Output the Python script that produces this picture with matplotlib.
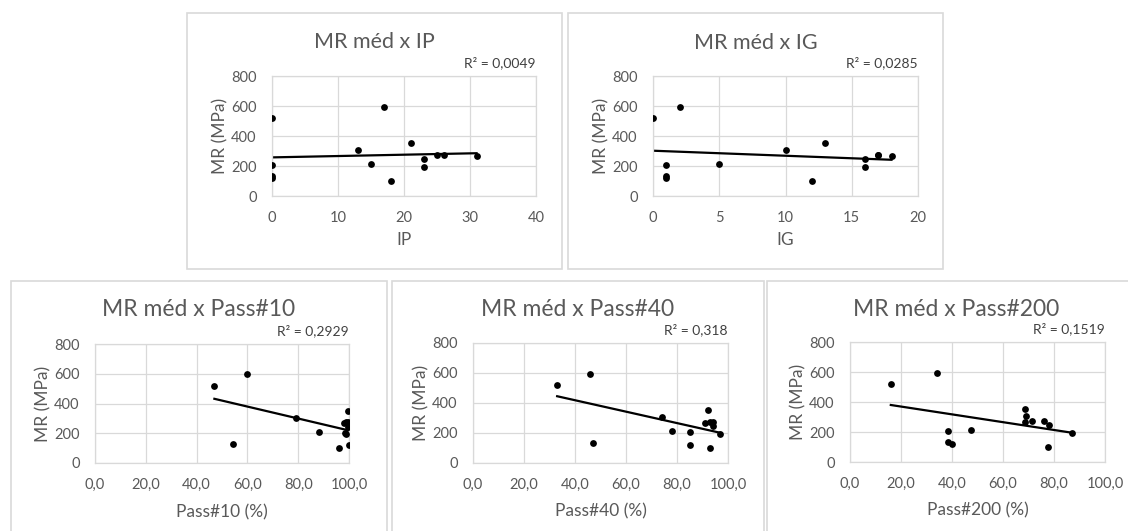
import numpy as np
import matplotlib.pyplot as plt
from matplotlib.patches import Rectangle

plt.rcParams['font.family'] = ['Lato', 'DejaVu Sans']

# Data (14 samples)
mr = [520, 595, 131, 120, 204, 211, 304, 102, 351, 244, 193, 276, 276, 267]
ip = [0, 17, 0, 0, 0, 15, 13, 18, 21, 23, 23, 25, 26, 31]
ig = [0, 2, 1, 1, 1, 5, 10, 12, 13, 16, 16, 17, 17, 18]
pass10 = [47, 60, 54.5, 100, 98.5, 88, 79, 96, 99.5, 99.5, 99, 99.5, 99, 98]
pass40 = [33, 46, 47, 85, 85, 78, 74, 93, 92, 94, 97, 94, 93, 91]
pass200 = [16, 34, 38.5, 40, 38.5, 47.5, 69, 77.5, 68.5, 78, 87, 76, 71.5, 68.5]

titles = ['MR méd x IP', 'MR méd x IG', 'MR méd x Pass#10', 'MR méd x Pass#40', 'MR méd x Pass#200']
xlabels = ['IP', 'IG', 'Pass#10 (%)', 'Pass#40 (%)', 'Pass#200 (%)']
r2_labels = ['R² = 0,0049', 'R² = 0,0285', 'R² = 0,2929', 'R² = 0,318', 'R² = 0,1519']
y_ticks = [0, 200, 400, 600, 800]
ip_ticks = [0, 10, 20, 30, 40]
ig_ticks = [0, 5, 10, 15, 20]
pass_ticks = [0, 20, 40, 60, 80, 100]
pass_tick_labels = ['0,0', '20,0', '40,0', '60,0', '80,0', '100,0']

W, H = 1128, 531
fig = plt.figure(figsize=(W / 100, H / 100), dpi=100)

GRAY_TXT = '#595959'
GRID = '#d9d9d9'


def px_rect(x0, y0, x1, y1):
    # pixel box (top-left origin) -> figure fraction [left, bottom, width, height]
    return [x0 / W, 1 - y1 / H, (x1 - x0) / W, (y1 - y0) / H]


# panel layout: (panel box, plot box, title center x, title y, title size, xlabel offset)
panels = [
    ((187, 13, 562, 269), (272, 76, 536, 196), 374, 42, 15.5, 36),
    ((568, 13, 943, 269), (653, 76, 918, 196), 756, 43, 15.5, 36),
    ((11, 281, 387, 545), (95, 344, 349, 463), 199, 310, 16.5, 41),
    ((392, 281, 764, 545), (473, 343, 728, 463), 578, 309, 16.5, 40),
    ((767, 281, 1145, 545), (850, 342, 1105, 462), 956, 309, 16.5, 40),
]
x_data = [ip, ig, pass10, pass40, pass200]
x_ticks = [ip_ticks, ig_ticks, pass_ticks, pass_ticks, pass_ticks]
x_tick_labels = [[str(t) for t in ip_ticks], [str(t) for t in ig_ticks],
                 pass_tick_labels, pass_tick_labels, pass_tick_labels]

for i, (box, pbox, tx, ty, tsize, xl_off) in enumerate(panels):
    bx = px_rect(*box)
    fig.patches.append(Rectangle((bx[0], bx[1]), bx[2], bx[3], transform=fig.transFigure,
                                 fill=False, edgecolor=GRID, linewidth=1.2))

    ax = fig.add_axes(px_rect(*pbox))
    x = np.array(x_data[i], dtype=float)
    y = np.array(mr, dtype=float)
    ax.scatter(x, y, s=24, color='black', zorder=3, linewidths=0)

    # linear trendline over the data range
    slope, intercept = np.polyfit(x, y, 1)
    xl = np.array([x.min(), x.max()])
    ax.plot(xl, slope * xl + intercept, color='black', linewidth=1.6, zorder=2)

    ax.set_xlim(x_ticks[i][0], x_ticks[i][-1])
    ax.set_ylim(0, 800)
    ax.set_xticks(x_ticks[i])
    ax.set_xticklabels(x_tick_labels[i])
    ax.set_yticks(y_ticks)
    ax.grid(True, color=GRID, linewidth=0.9)
    ax.set_axisbelow(True)
    for s in ax.spines.values():
        s.set_color(GRID)
        s.set_linewidth(0.9)
    ax.tick_params(length=0, labelsize=10.5, labelcolor=GRAY_TXT)
    ax.tick_params(axis='x', pad=10.5)
    ax.tick_params(axis='y', pad=11)

    pw = pbox[2] - pbox[0]
    ph = pbox[3] - pbox[1]
    ax.set_ylabel('MR (MPa)', fontsize=12.5, color=GRAY_TXT)
    ax.yaxis.set_label_coords(-44 / pw, 0.5)
    ax.set_xlabel(xlabels[i], fontsize=12.5, color=GRAY_TXT)
    ax.xaxis.set_label_coords(0.5, -xl_off / ph)

    fig.text(tx / W, 1 - ty / H, titles[i], ha='center', va='center',
             fontsize=tsize, color=GRAY_TXT)
    ax.text(1.0, 1 + 13 / ph, r2_labels[i], transform=ax.transAxes, ha='right',
            va='center', fontsize=10, color='#404040')

fig.savefig('out.png', dpi=100)
